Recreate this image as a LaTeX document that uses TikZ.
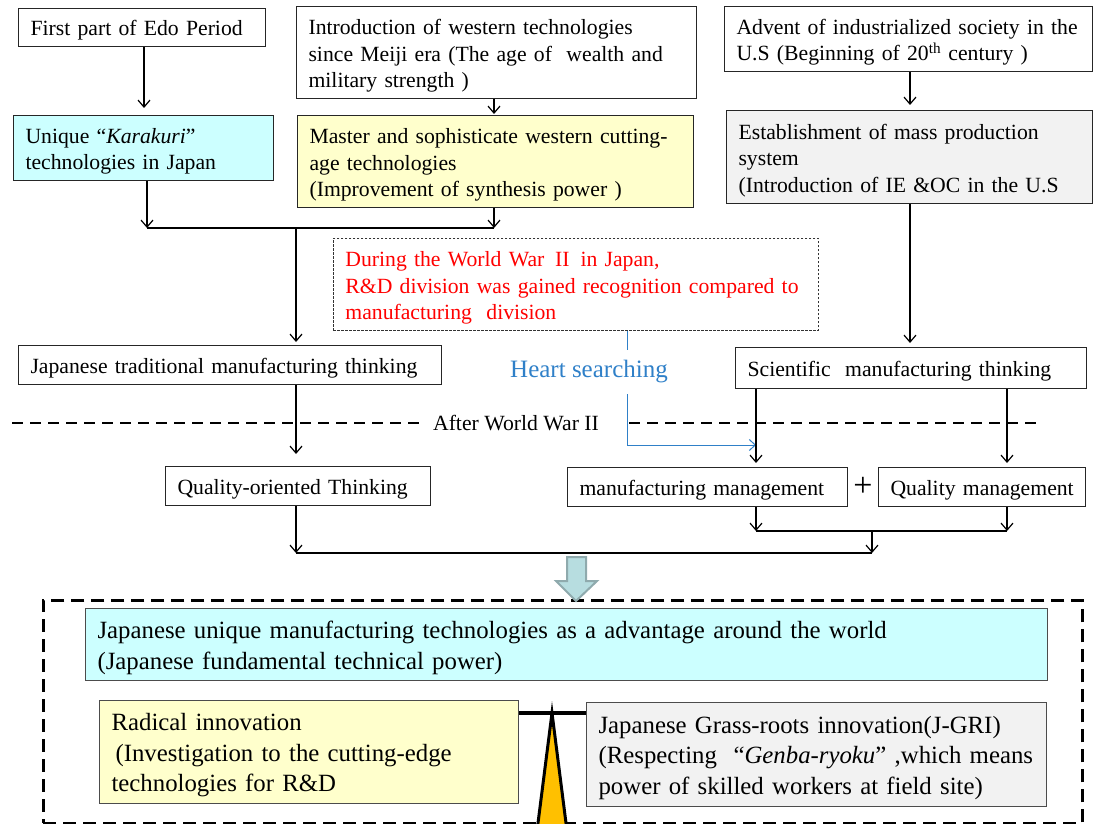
\documentclass[tikz,border=0pt]{standalone}
\usepackage{fontspec}
\setmainfont{Liberation Serif}
\usepackage{xcolor}
\usetikzlibrary{arrows.meta}
\definecolor{karacyan}{HTML}{CCFFFF}
\definecolor{paleyellow}{HTML}{FFFFCC}
\definecolor{palegray}{HTML}{F2F2F2}
\definecolor{heartblue}{HTML}{2F80C8}
\definecolor{arrowfill}{HTML}{B7DDE0}
\definecolor{arrowedge}{HTML}{8FAAAD}
\definecolor{pivotorange}{HTML}{FFC000}

\begin{document}
\begin{tikzpicture}[
    x=1pt, y=-1pt,
    box/.style={rectangle, draw=black!85, line width=1.1pt, anchor=north west, align=left, inner xsep=12pt, inner ysep=0pt, font=\fontsize{21.7}{26.5}\selectfont, execute at begin node={\rule[-6pt]{0pt}{28pt}}},
    bigbox/.style={box, draw=black!70, font=\fontsize{24.8}{30.5}\selectfont, execute at begin node={\rule[-7pt]{0pt}{31pt}}},
    arrow/.style={-{Straight Barb[length=7pt, width=12pt]}, line width=1.2pt},
    heartline/.style={heartblue, line width=1pt},
    era/.style={dash pattern=on 11pt off 7pt, line width=2.4pt},
]
    \useasboundingbox (0,0) rectangle (1093,824);

    % upper row: three origins
    \node[box, minimum width=247pt, minimum height=38pt, text width=223pt] (edo) at (18,8) {First part of Edo Period};
    \node[box, minimum width=400pt, minimum height=92pt, text width=376pt] (intro) at (296,6) {
        Introduction of western technologies\\
        since Meiji era (The age of~ wealth and\\
        military strength )
    };
    \node[box, minimum width=368pt, minimum height=65pt, text width=344pt] (advent) at (724,6) {
        \mbox{Advent of industrialized society in the}\\
        U.S (Beginning of 20\textsuperscript{th} century )
    };

    % second row
    \node[box, fill=karacyan, minimum width=260pt, minimum height=65pt, text width=236pt] (karakuri) at (13,115) {
        Unique “\textit{Karakuri}”\\
        technologies in Japan
    };
    \node[box, fill=paleyellow, minimum width=396pt, minimum height=92pt, text width=372pt] (master) at (297,115) {
        Master and sophisticate western cutting-\\
        age technologies\\
        (Improvement of synthesis power )
    };
    \node[box, fill=palegray, minimum width=366pt, minimum height=93pt, text width=342pt] (mass) at (726,110) {
        Establishment of mass production\\
        system\\
        (Introduction of IE \&OC in the U.S
    };

    % war-time note
    \node[box, draw=black!80, line width=0.8pt, dash pattern=on 2.5pt off 1.5pt, text=red, minimum width=485pt, minimum height=92pt, text width=461pt] (wartime) at (333,238) {
        During the World War\hspace{0.5em}II\hspace{0.5em}in Japan,\\
        \mbox{R\&D division was gained recognition compared to}\\
        manufacturing~ division
    };

    % thinking
    \node[box, minimum width=423pt, minimum height=39pt, text width=399pt] (trad) at (18,345) {Japanese traditional manufacturing thinking};
    \node[box, minimum width=351pt, minimum height=41pt, text width=327pt] (sci) at (735,347) {Scientific~ manufacturing thinking};
    \node[font=\fontsize{25}{30}\selectfont, text=heartblue, inner sep=0pt, minimum height=44pt] (heart) at (589,372) {Heart searching};

    % after the war
    \node[font=\fontsize{21.7}{26.5}\selectfont, inner xsep=13pt] (ww2) at (516,423) {After World War II};
    \node[box, minimum width=265pt, minimum height=39pt, text width=241pt] (qot) at (165,466) {Quality-oriented Thinking};
    \node[box, minimum width=280pt, minimum height=39pt, text width=256pt] (mfg) at (567,467) {manufacturing management};
    \node[font=\fontsize{34}{34}\selectfont, inner sep=0pt] (plus) at (863,487) {+};
    \node[box, minimum width=207pt, minimum height=39pt, text width=183pt] (qm) at (878,467) {\mbox{Quality management}};

    % result
    \node[draw, line width=2.6pt, dash pattern=on 13pt off 7pt, anchor=north west, minimum width=1039pt, minimum height=223pt, inner sep=0pt] (frame) at (42,599) {};
    \node[bigbox, fill=karacyan, minimum width=962pt, minimum height=72pt, text width=938pt] (world) at (85,608) {
        Japanese unique manufacturing technologies as a advantage around the world\\
        (Japanese fundamental technical power)
    };
    \node[bigbox, fill=paleyellow, minimum width=419pt, minimum height=103pt, text width=395pt] (rad) at (99,700) {
        Radical innovation\\
        \hspace{4pt}(Investigation to the cutting-edge\\
        technologies for R\&D
    };
    \node[bigbox, fill=palegray, minimum width=460pt, minimum height=104pt, text width=436pt] (jgri) at (586,702) {
        Japanese Grass-roots innovation(J-GRI)\\
        \mbox{(Respecting~ “\textit{Genba-ryoku}” ,which means}\\
        power of skilled workers at field site)
    };

    % helper points
    \coordinate (a1) at (144,0);
    \coordinate (a2) at (494,0);
    \coordinate (a3) at (910,0);
    \coordinate (jl) at (147,228);
    \coordinate (jr) at (494,228);
    \coordinate (jm) at (296,228);
    \coordinate (hx) at (627,0);
    \coordinate (bt) at (756,445);
    \coordinate (sl) at (756,531);
    \coordinate (sr) at (1007,531);
    \coordinate (sm) at (872,531);
    \coordinate (ml) at (296,553);
    \coordinate (mr) at (872,553);
    \coordinate (wl) at (12,423);
    \coordinate (wr) at (1040,423);
    \coordinate (bar) at (0,713);
    \coordinate (apex) at (552,713);

    % connectors, top half
    \draw[arrow, shorten >=7pt] (edo.south -| a1) -- (karakuri.north -| a1);
    \draw[arrow, shorten >=1pt] (intro.south -| a2) -- (master.north -| a2);
    \draw[arrow, shorten >=5pt] (advent.south -| a3) -- (mass.north -| a3);
    \draw[arrow] (karakuri.south -| jl) -- (jl);
    \draw[arrow] (master.south -| jr) -- (jr);
    \draw[line width=1.2pt] (jl) -- (jr);
    \draw[arrow, shorten >=3pt] (jm) -- (jm |- trad.north);
    \draw[arrow, shorten >=4pt] (mass.south -| a3) -- (a3 |- sci.north);

    % heart searching
    \draw[heartline] (wartime.south -| hx) -- (heart.north -| hx);
    \draw[heartline, -{Straight Barb[length=6pt, width=11pt]}] (heart.south -| hx) |- (bt);

    % after world war II line
    \draw[era] (wl) -- (ww2.west);
    \draw[era, shorten <=17pt] (ww2.east) -- (wr);

    % connectors, bottom half
    \draw[arrow, shorten >=12pt] (jm |- trad.south) -- (jm |- qot.north);
    \draw[arrow, shorten >=4pt] (bt |- sci.south) -- (bt |- mfg.north);
    \draw[arrow, shorten >=4pt] (sr |- sci.south) -- (sr |- qm.north);
    \draw[arrow] (sl |- mfg.south) -- (sl);
    \draw[arrow] (sr |- qm.south) -- (sr);
    \draw[line width=1.2pt] (sl) -- (sr);
    \draw[arrow] (sm) -- (mr);
    \draw[arrow] (ml |- qot.south) -- (ml);
    \draw[line width=1.2pt] (ml) -- (mr);

    % block arrow
    \filldraw[fill=arrowfill, draw=arrowedge, line width=2pt, line join=miter]
        (567,557) -- (586,557) -- (586,581) -- (597,581) -- (576,601) -- (556,581) -- (567,581) -- cycle;

    % seesaw
    \filldraw[fill=pivotorange, draw=black, line width=3pt, line join=miter] (apex) -- (537.5,827) -- (566.5,827) -- cycle;
    \draw[line width=3.5pt] (rad.east |- bar) -- (jgri.west |- bar);
\end{tikzpicture}
\end{document}
